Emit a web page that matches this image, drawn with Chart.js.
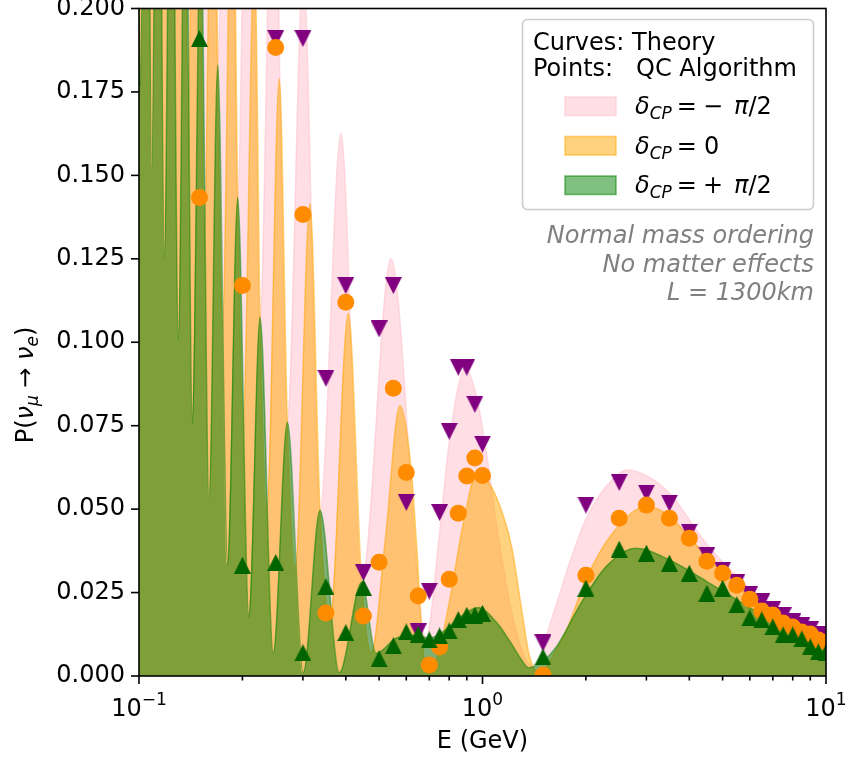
<!DOCTYPE html>
<html>
<head>
<meta charset="utf-8">
<script src="https://cdn.jsdelivr.net/npm/chart.js@4.4.0/dist/chart.umd.min.js"></script>
<style>
  html, body { margin: 0; padding: 0; background: #fff; }
</style>
</head>
<body>
<canvas id="osc-chart" width="849" height="761"></canvas>
<script>
  // theory curves, energy in GeV (peaks above 0.2 are cut by the axis)
  const thNegE = [0.1, 0.1049, 0.1089, 0.1136, 0.1185, 0.1242, 0.1302, 0.1365, 0.143, 0.1512, 0.1599, 0.1695, 0.1812, 0.1938, 0.209, 0.2251, 0.246, 0.2703, 0.3008, 0.3365, 0.3873, 0.4449, 0.5415, 0.685, 0.75, 0.8, 0.889, 0.96, 1.03, 1.1, 1.2, 1.3, 1.4, 1.6, 1.8, 2.0, 2.3, 2.65, 3.0, 3.5, 4.5, 6.2, 8, 10];
  const thNegP = [0.64, 0.36, 0.62, 0.33, 0.59, 0.30, 0.55, 0.265, 0.50, 0.228, 0.443, 0.183, 0.379, 0.1434, 0.318, 0.1075, 0.262, 0.076, 0.211, 0.0497, 0.1626, 0.0281, 0.125, 0.0115, 0.043, 0.07, 0.092, 0.084, 0.066, 0.045, 0.022, 0.008, 0.0028, 0.018, 0.0345, 0.047, 0.057, 0.0617, 0.060, 0.0548, 0.0395, 0.025, 0.017, 0.0115];

  const thZeroE = [0.1, 0.1024, 0.1064, 0.1108, 0.1155, 0.1206, 0.1261, 0.1324, 0.1391, 0.1466, 0.155, 0.1644, 0.1695, 0.175, 0.1871, 0.1938, 0.2009, 0.217, 0.2251, 0.2359, 0.2561, 0.2703, 0.285, 0.3145, 0.3365, 0.36, 0.4068, 0.4449, 0.475, 0.52, 0.575, 0.62, 0.645, 0.67, 0.69, 0.74, 0.8, 0.88, 0.964, 1.05, 1.15, 1.22, 1.3, 1.37, 1.47, 1.6, 1.77, 2.0, 2.4, 3.0, 3.5, 4, 5, 6, 7, 8, 10];
  const thZeroP = [0.33, 0.44, 0.25, 0.42, 0.23, 0.40, 0.205, 0.37, 0.174, 0.34, 0.134, 0.30, 0.183, 0.105, 0.26, 0.1434, 0.0775, 0.218, 0.1075, 0.050, 0.179, 0.076, 0.0325, 0.1416, 0.0497, 0.0165, 0.1087, 0.0281, 0.007, 0.04, 0.081, 0.062, 0.037, 0.009, 0.0015, 0.006, 0.022, 0.046, 0.0608, 0.0575, 0.048, 0.038, 0.02, 0.006, 0.0006, 0.006, 0.0147, 0.029, 0.043, 0.0508, 0.048, 0.0415, 0.031, 0.0235, 0.0185, 0.015, 0.0103];

  const thPosE = [0.1, 0.101, 0.1049, 0.1089, 0.1136, 0.1185, 0.1242, 0.1302, 0.1365, 0.143, 0.1512, 0.1599, 0.1695, 0.1812, 0.1938, 0.209, 0.2251, 0.246, 0.2703, 0.3008, 0.3365, 0.383, 0.4449, 0.49, 0.56, 0.63, 0.7, 0.78, 0.87, 0.97, 1.1, 1.2, 1.3, 1.36, 1.5, 1.64, 1.94, 2.3, 2.8, 3.5, 4.5, 6, 8, 10];
  const thPosP = [0.205, 0.177, 0.36, 0.1515, 0.33, 0.1255, 0.30, 0.1006, 0.265, 0.0754, 0.228, 0.053, 0.183, 0.0335, 0.1434, 0.0177, 0.1075, 0.0069, 0.076, 0.001, 0.0497, 0.001, 0.0281, 0.0068, 0.0113, 0.0122, 0.0114, 0.0138, 0.018, 0.0205, 0.016, 0.0105, 0.0048, 0.0025, 0.0045, 0.0087, 0.022, 0.033, 0.0383, 0.0348, 0.0283, 0.0205, 0.0125, 0.0072];

  // QC algorithm points (null = above the top of the axis)
  const qcE = [0.15, 0.2, 0.25, 0.3, 0.35, 0.4, 0.45, 0.5, 0.55, 0.6, 0.65, 0.7, 0.75, 0.8, 0.85, 0.9, 0.95, 1.0, 1.5, 2, 2.5, 3, 3.5, 4, 4.5, 5, 5.5, 6, 6.5, 7, 7.5, 8, 8.5, 9, 9.5, 10];
  const qcNeg = [null, null, 0.191, 0.191, 0.0892, 0.117, 0.031, 0.104, 0.117, 0.052, 0.0132, 0.0254, 0.049, 0.0733, 0.0925, 0.0925, 0.0814, 0.0695, 0.0099, 0.0512, 0.058, 0.0548, 0.0518, 0.0431, 0.0362, 0.0317, 0.028, 0.0245, 0.0222, 0.020, 0.018, 0.0162, 0.015, 0.0138, 0.0125, 0.0115];
  const qcZero = [0.1434, 0.117, 0.1883, 0.1383, 0.0189, 0.112, 0.018, 0.0341, 0.0862, 0.061, 0.024, 0.0033, 0.0087, 0.029, 0.0488, 0.0599, 0.0653, 0.0601, 0.0003, 0.0302, 0.0473, 0.0512, 0.0473, 0.0413, 0.0344, 0.0308, 0.0272, 0.023, 0.0195, 0.0183, 0.0159, 0.0147, 0.0132, 0.0126, 0.0108, 0.0102];
  const qcPos = [0.191, 0.0332, 0.034, 0.007, 0.0268, 0.013, 0.0265, 0.0052, 0.0091, 0.0132, 0.0125, 0.0108, 0.012, 0.0135, 0.0169, 0.0182, 0.0182, 0.0188, 0.0057, 0.0263, 0.038, 0.0368, 0.0338, 0.0308, 0.0248, 0.0263, 0.0213, 0.0174, 0.0168, 0.0147, 0.0123, 0.0123, 0.0111, 0.0087, 0.0072, 0.007];

  const yTicks = [0, 0.025, 0.05, 0.075, 0.1, 0.125, 0.15, 0.175, 0.2];
  const xMajor = [0.1, 1, 10];
  const xMajorExp = ['\u22121', '0', '1'];
  const xMinor = [0.2, 0.3, 0.4, 0.5, 0.6, 0.7, 0.8, 0.9, 2, 3, 4, 5, 6, 7, 8, 9];

  const PINK = 'rgba(255,192,203,0.5)';
  const ORANGE = 'rgba(255,165,0,0.5)';
  const GREEN = 'rgba(0,128,0,0.5)';
  const FONT = '"DejaVu Sans"';

  const xy = (es, ps) => es.map((e, i) => ({ x: e, y: ps[i] }));

  // matplotlib style triangle marker: as wide as it is tall
  function triMarker(color, down) {
    const s = 17, c = document.createElement('canvas');
    c.width = s; c.height = s;
    const g = c.getContext('2d');
    g.fillStyle = color;
    g.beginPath();
    if (down) { g.moveTo(0, 0); g.lineTo(s, 0); g.lineTo(s / 2, s); }
    else { g.moveTo(s / 2, 0); g.lineTo(s, s); g.lineTo(0, s); }
    g.closePath();
    g.fill();
    return c;
  }

  const curve = (data, color, order) => ({
    data, order,
    borderColor: color,
    backgroundColor: color,
    borderWidth: 1.5,
    fill: 'origin',
    pointRadius: 0,
    cubicInterpolationMode: 'monotone',
    clip: 0,
  });

  const marks = (data, color, style, r, order) => ({
    data, order,
    showLine: false,
    pointStyle: style,
    pointRadius: r,
    pointBackgroundColor: color,
    pointBorderWidth: 0,
    borderColor: color,
    clip: 0,
  });

  function line(ctx, x1, y1, x2, y2) {
    ctx.beginPath(); ctx.moveTo(x1, y1); ctx.lineTo(x2, y2); ctx.stroke();
  }

  // pieces: [text, italic, size, dy]
  function runs(ctx, x, y, pieces) {
    pieces.forEach(([t, it, sz, dy]) => {
      ctx.font = (it ? 'italic ' : '') + sz + 'px ' + FONT;
      ctx.fillText(t, x, y + dy);
      x += ctx.measureText(t).width;
    });
    return x;
  }
  function runsWidth(ctx, pieces) {
    let w = 0;
    pieces.forEach(([t, it, sz]) => {
      ctx.font = (it ? 'italic ' : '') + sz + 'px ' + FONT;
      w += ctx.measureText(t).width;
    });
    return w;
  }

  const frame = {
    id: 'frame',
    afterDraw(chart) {
      const { ctx, chartArea: a, scales: { x, y } } = chart;
      ctx.save();
      ctx.strokeStyle = '#000';
      ctx.fillStyle = '#000';
      ctx.lineWidth = 1.6;
      ctx.strokeRect(a.left, a.top, a.right - a.left, a.bottom - a.top);

      ctx.font = '24px ' + FONT;
      ctx.textAlign = 'right';
      ctx.textBaseline = 'middle';
      yTicks.forEach(v => {
        const py = y.getPixelForValue(v);
        line(ctx, a.left - 8, py, a.left, py);
        ctx.fillText(v.toFixed(3), a.left - 14, py);
      });

      xMinor.forEach(v => {
        const px = x.getPixelForValue(v);
        line(ctx, px, a.bottom, px, a.bottom + 4.5);
      });
      ctx.textAlign = 'left';
      ctx.textBaseline = 'alphabetic';
      xMajor.forEach((v, i) => {
        const px = x.getPixelForValue(v);
        line(ctx, px, a.bottom, px, a.bottom + 8);
        const parts = [['10', false, 24, 0], [xMajorExp[i], false, 17, -11]];
        runs(ctx, px - runsWidth(ctx, parts) / 2, 716, parts);
      });

      ctx.font = '24px ' + FONT;
      ctx.textAlign = 'center';
      ctx.fillText('E (GeV)', (a.left + a.right) / 2, 748);

      // y label
      ctx.save();
      ctx.translate(33, 385);
      ctx.rotate(-Math.PI / 2);
      ctx.textAlign = 'left';
      const yl = [['P(', false, 24, 0], ['\u03bd', true, 24, 0], ['\u03bc', true, 17, 5], [' \u2192 ', false, 24, 0],
                  ['\u03bd', true, 24, 0], ['e', true, 17, 5], [')', false, 24, 0]];
      runs(ctx, -runsWidth(ctx, yl) / 2, 0, yl);
      ctx.restore();

      // legend
      ctx.beginPath();
      ctx.roundRect(522.5, 19.5, 291, 190, 5);
      ctx.fillStyle = 'rgba(255,255,255,0.8)';
      ctx.fill();
      ctx.strokeStyle = '#cccccc';
      ctx.lineWidth = 1.6;
      ctx.stroke();

      ctx.fillStyle = '#000';
      ctx.textAlign = 'left';
      ctx.font = '24px ' + FONT;
      ctx.fillText('Curves: Theory', 533, 50);
      ctx.fillText('Points:   QC Algorithm', 533, 76);

      const entries = [[PINK, 97, '\u2212', [['\u03c0', true, 24, 0], ['/2', false, 24, 0]]],
                       [ORANGE, 136.5, '', [['0', false, 24, 0]]],
                       [GREEN, 176, '+', [['\u03c0', true, 24, 0], ['/2', false, 24, 0]]]];
      entries.forEach(([c, top, sign, rhs]) => {
        ctx.fillStyle = c;
        ctx.strokeStyle = c;
        ctx.lineWidth = 1.6;
        ctx.fillRect(565, top, 51, 18.5);
        ctx.strokeRect(565, top, 51, 18.5);
        ctx.fillStyle = '#000';
        const base = top + 17;
        let px = runs(ctx, 635, base, [['\u03b4', true, 24, 0], ['CP', true, 17, 5]]);
        px = runs(ctx, px + 5, base, [['=', false, 24, 0]]);
        if (sign) px = runs(ctx, px + 6, base, [[sign, false, 24, 0]]) + 4;
        runs(ctx, px + 7, base, rhs);
      });

      // annotation
      ctx.fillStyle = '#808080';
      ctx.textAlign = 'right';
      ctx.font = 'italic 24px ' + FONT;
      ctx.fillText('Normal mass ordering', 814, 243);
      ctx.fillText('No matter effects', 814, 271.5);
      ctx.fillText('L = 1300km', 814, 300);
      ctx.restore();
    },
  };

  const ctx = document.getElementById('osc-chart').getContext('2d');

  const oscChart = new Chart(ctx, {
    type: 'line',
    data: {
      datasets: [
        marks(xy(qcE, qcPos), '#006400', triMarker('#006400', false), 8.5, 1),
        marks(xy(qcE, qcZero), '#ff8c00', 'circle', 8.5, 2),
        marks(xy(qcE, qcNeg), '#800080', triMarker('#800080', true), 8.5, 3),
        curve(xy(thPosE, thPosP), GREEN, 4),
        curve(xy(thZeroE, thZeroP), ORANGE, 5),
        curve(xy(thNegE, thNegP), PINK, 6),
      ],
    },
    options: {
      responsive: false,
      animation: false,
      layout: { padding: { top: 8, right: 23, left: 0, bottom: 0 } },
      elements: { line: { capBezierPoints: false } },
      scales: {
        x: {
          type: 'logarithmic', min: 0.1, max: 10,
          ticks: { display: false }, grid: { display: false }, border: { display: false },
          afterFit(s) { s.height = 85; },
        },
        y: {
          min: 0, max: 0.2,
          ticks: { display: false }, grid: { display: false }, border: { display: false },
          afterFit(s) { s.width = 139; },
        },
      },
      plugins: {
        legend: { display: false },
        tooltip: { enabled: false },
      },
    },
    plugins: [frame],
  });
</script>
</body>
</html>
